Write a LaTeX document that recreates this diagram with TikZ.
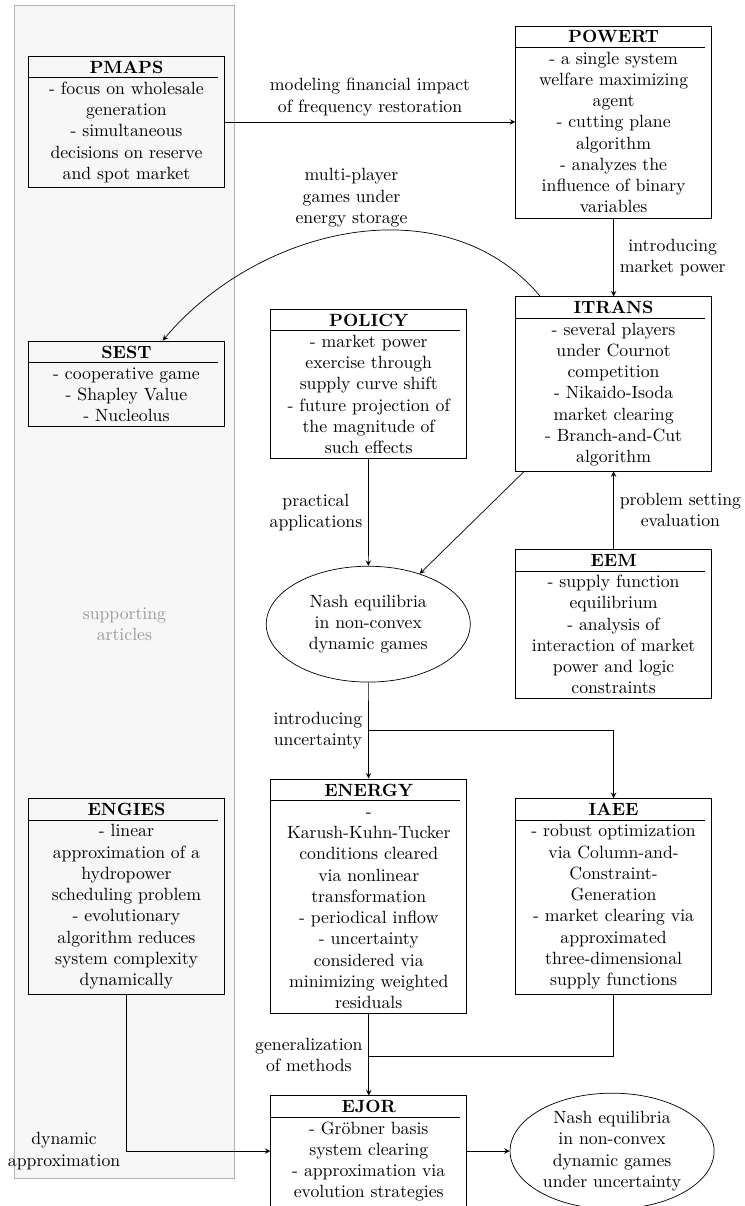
\documentclass[tikz,border=0pt]{standalone}
\usetikzlibrary{shapes.geometric,arrows}

\begin{document}
\begin{tikzpicture}[>=stealth,
    article/.style={draw, text width=3.3cm, align=flush center, inner xsep=8.4pt, inner ysep=2.7pt},
    result/.style={draw, ellipse, align=center, inner sep=0pt, minimum width=4.05cm, minimum height=2.3cm},
    remark/.style={align=center}]
    \useasboundingbox (0,0) rectangle (14.77,-23.94);

    % supporting articles
    \draw[black!30, fill=black!3] (0.28,-0.10) rectangle (4.65,-23.40);
    \node[remark, text=black!40] (support) at (2.47,-12.39) {supporting\\articles};

    \node[article] (pmaps) at (2.51,-2.42) {\textbf{PMAPS}\\- focus on wholesale generation\\- simultaneous decisions on reserve and spot market};
    \node[article] (powert) at (12.18,-2.42) {\textbf{POWERT}\\- a single system welfare maximizing agent\\- cutting plane algorithm\\- analyzes the influence of binary variables};
    \node[article] (sest) at (2.51,-7.62) {\textbf{SEST}\\- cooperative game\\- Shapley Value\\- Nucleolus};
    \node[article] (policy) at (7.32,-7.62) {\textbf{POLICY}\\- market power exercise through supply curve shift\\- future projection of the magnitude of such effects};
    \node[article] (itrans) at (12.18,-7.62) {\textbf{ITRANS}\\- several players under Cournot competition\\- Nikaido-Isoda market clearing\\- Branch-and-Cut algorithm};
    \node[result] (nash1) at (7.31,-12.39) {Nash equilibria\\in non-convex\\dynamic games};
    \node[article] (eem) at (12.18,-12.39) {\textbf{EEM}\\- supply function equilibrium\\- analysis of interaction of market power and logic constraints};
    \node[article] (engies) at (2.51,-17.79) {\textbf{ENGIES}\\- linear approximation of a hydropower scheduling problem\\- evolutionary algorithm reduces system complexity dynamically};
    \node[article] (energy) at (7.32,-17.79) {\textbf{ENERGY}\\- Karush-Kuhn-Tucker conditions cleared via nonlinear transformation\\- periodical inflow\\- uncertainty considered via minimizing weighted residuals};
    \node[article] (iaee) at (12.18,-17.79) {\textbf{IAEE}\\- robust optimization via Column-and-Constraint-Generation\\- market clearing via approximated three-dimensional supply functions};
    \node[article] (ejor) at (7.32,-22.85) {\textbf{EJOR}\\- Gr\"obner basis system clearing\\- approximation via evolution strategies};
    \node[result] (nash2) at (12.15,-22.85) {Nash equilibria\\in non-convex\\dynamic games\\under uncertainty};

    % header rules
    \foreach \n in {pmaps,powert,sest,policy,itrans,eem,engies,energy,iaee,ejor}
        \draw ([yshift=-0.437cm]\n.north west) -- ++(3.77,0);

    \coordinate (branch) at (7.31,-14.49);
    \coordinate (merge) at (7.32,-20.96);

    \draw[->] (pmaps) -- (powert) node[midway, above, remark] {modeling financial impact\\of frequency restoration};
    \draw[->] (powert) -- (itrans) node[midway, right, remark] {introducing\\market power};
    \draw[->] (itrans) to[out=130, in=50, looseness=1] node[midway, above, remark] {multi-player\\games under\\energy storage} (sest);
    \draw[->] (policy) -- (nash1) node[midway, left, remark] {practical\\applications};
    \draw[->] (itrans) -- (nash1);
    \draw[->] (eem) -- (itrans) node[midway, right, remark] {problem setting\\evaluation};
    \draw[->] (nash1) -- (energy) node[midway, left, remark] {introducing\\uncertainty};
    \draw[->] (branch) -| (iaee);
    \draw[->] (energy) -- (ejor) node[midway, left, remark] {generalization\\of methods};
    \draw (iaee) |- (merge);
    \draw[->] (engies) |- (ejor) node[pos=0.5, left, remark] {dynamic\\approximation};
    \draw[->] (ejor) -- (nash2);
\end{tikzpicture}
\end{document}
